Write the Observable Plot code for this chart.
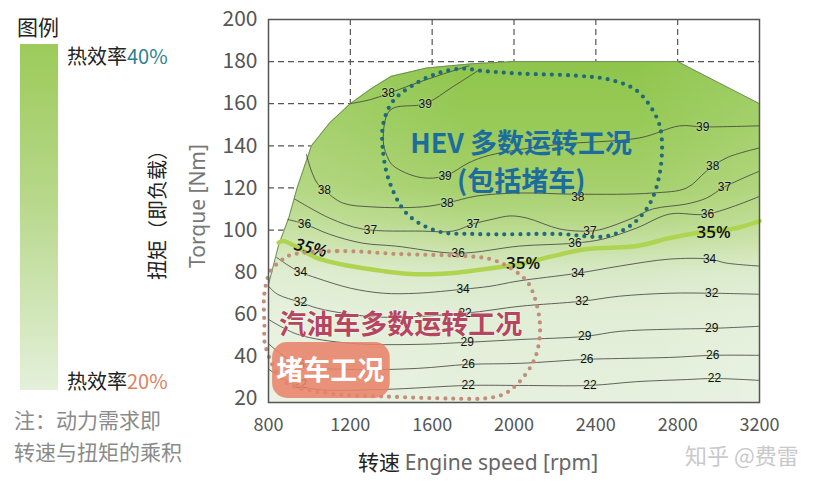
<!DOCTYPE html>
<html>
<head>
<meta charset="utf-8">
<script src="https://cdn.jsdelivr.net/npm/d3@7"></script>
<script src="https://cdn.jsdelivr.net/npm/@observablehq/plot@0.6"></script>
<style>
  html, body { margin: 0; padding: 0; background: #fff; }
  #wrap { position: relative; width: 838px; height: 486px; overflow: hidden;
          font-family: "Noto Sans CJK SC", "Noto Sans", sans-serif; }
  #wrap svg { position: absolute; left: 0; top: 0; }
  .ov { position: absolute; white-space: nowrap; line-height: 1; }
</style>
</head>
<body>
<div id="wrap"></div>
<script>
// ---------------- data ----------------
const speedTicks = [800, 1200, 1600, 2000, 2400, 2800, 3200];
const torqueTicks = [20, 40, 60, 80, 100, 120, 140, 160, 180, 200];
const gridSpeed = [1200, 1600, 2000, 2400, 2800];
const gridTorque = [100, 120, 140, 160, 180];
const torqueMin = 18.1;

// full-load (max torque) boundary [rpm, Nm]
const boundary = [[800,74],[850,93],[900,106],[940,120],[1010,140],[1100,151],[1200,160],[1300,167],[1400,173],[1575,177],[1800,179],[2000,180],[2800,180],[3000,170],[3200,160]];

// efficiency contours [rpm, Nm]
const c39 = [[1824,175.7],[1700,168],[1566,160],[1395,157],[1361,142.4],[1380,135],[1410,130.5],[1541,125],[1663,125.7],[1780,132],[1880,135.5],[2200,140.5],[2615,143.8],[2810,149.5],[2922,149],[3200,149.5]];
const c38top = [[1200,160],[1300,162],[1385,164.8],[1500,169],[1650,174],[1780,178]];
const c38 = [[985,136],[1010,128],[1040,122],[1073,119],[1161,112.9],[1307,111],[1551,111],[1673,112.9],[1820,116.2],[2029,117.6],[2312,117],[2678,117.6],[2844,120],[2941,128],[3039,134.3],[3200,139]];
const c37 = [[927,114.8],[1098,105.7],[1259,100.5],[1551,99.5],[1702,99.5],[1800,102.9],[1898,105.2],[1980,106.7],[2063,105.7],[2224,100.5],[2371,99.5],[2434,100.5],[2580,105.7],[2678,110],[2844,112.4],[2941,115.2],[3029,120.5],[3200,128]];
const c36 = [[895,105],[976,102.9],[1098,98],[1259,93.8],[1420,92.4],[1727,89],[2029,92.4],[2298,93.8],[2434,95.7],[2600,101],[2761,107.6],[2946,107.6],[3200,116]];
const c35 = [[850,94],[873,94.8],[1039,86.7],[1200,82.9],[1361,80.5],[1527,79],[1688,79.5],[1849,81.4],[2029,83.8],[2190,87.6],[2356,91],[2600,92.4],[2761,96.2],[2893,98.6],[3088,101],[3200,104.3]];
const c34 = [[840,87],[900,83],[956,80],[1039,77.1],[1200,72.4],[1361,70],[1527,70],[1751,71.9],[1883,73.3],[2015,75.7],[2312,79.5],[2517,82.9],[2761,86.2],[2956,86.2],[3039,84.3],[3200,82.9]];
const c32 = [[800,73.3],[844,69.5],[956,65.7],[1039,62.9],[1200,60],[1361,58.6],[1761,60.5],[2029,63.8],[2332,66.2],[2517,68.6],[2761,70],[2966,70],[3200,69.5]];
const c29 = [[800,57.6],[941,50.5],[1200,46.2],[1527,45.7],[1771,46.7],[2029,48],[2346,49.5],[2517,51.9],[2761,52.9],[2966,53.3],[3200,54.3]];
const c26 = [[800,46],[946,36.2],[1200,33.8],[1527,34.3],[1776,36.2],[2029,36.7],[2356,38.6],[2517,39],[2761,39.5],[2971,40.5],[3200,40.5]];
const c22 = [[800,34],[922,26.7],[1039,24.3],[1361,24.3],[1776,26.2],[2029,26.2],[2371,26.2],[2600,28],[2844,29],[2980,29.5],[3200,28.6]];

const contourLabels = [
  [1385,164.8,"38"],[1566,160,"39"],[1663,125.7,"39"],[2922,149,"39"],
  [1073,119,"38"],[1673,112.9,"38"],[2312,115.8,"38"],[2971,130.5,"38"],
  [1298,100,"37"],[1800,102.9,"37"],[2371,99.5,"37"],[3029,120.5,"37"],
  [976,102.9,"36"],[1727,89,"36"],[2298,93.8,"36"],[2946,107.6,"36"],
  [956,80,"34"],[1751,71.9,"34"],[2312,79.5,"34"],[2956,86.2,"34"],
  [956,65.7,"32"],[1761,60.5,"32"],[2332,66.2,"32"],[2966,70,"32"],
  [1771,46.7,"29"],[2346,49.5,"29"],[2966,53.3,"29"],
  [946,36.2,"26"],[1776,36.2,"26"],[2356,38.6,"26"],[2971,40.5,"26"],
  [956,27,"22"],[1776,26.2,"22"],[2371,26.2,"22"],[2980,29.5,"22"]
];
const label35 = [[2044,84.3,"35%"],[2976,98.6,"35%"]];
const label35left = [[1005,91.4,"35%"]];

// annotation regions
const hevLoop = [[1361,150.5],[1361,136.2],[1395,121.9],[1478,107.6],[1624,99.5],[1820,98.1],[2224,98.1],[2454,97.1],[2580,102.9],[2663,112.4],[2712,126.7],[2722,143.8],[2698,153.3],[2600,166.2],[2468,171.4],[2307,173.3],[2029,174.3],[1834,175.7],[1751,176.7],[1639,174.8],[1527,170],[1410,161.4]];
const gasLoop = [[907,88.1],[1137,90],[1444,88.6],[1771,87.6],[1883,86.2],[1966,82.9],[2063,75.7],[2102,67.6],[2127,55.2],[2117,43.8],[2088,36.2],[2015,26.7],[1946,21.9],[1849,20],[1688,20],[1361,21],[1102,22.4],[880,28],[785,44.8],[780,55.2],[780,70],[810,80.5],[858,85.2]];
const jamRegion = [{x1: 820, x2: 1395, y1: 20, y2: 46.6}];
const hevNote = [[2035, 133.5, "HEV 多数运转工况\n(包括堵车)"]];
const gasNote = [[1446, 54.7, "汽油车多数运转工况"]];
const jamNote = [[1102, 33, "堵车工况"]];

// ---------------- build ----------------
const contours = [
  ["39", c39], ["38t", c38top], ["38", c38], ["37", c37], ["36", c36],
  ["34", c34], ["32", c32], ["29", c29], ["26", c26], ["22", c22]
].flatMap(([level, pts]) => pts.map(([rpm, t]) => ({level, rpm, t})));

const X = d => d[0], Y = d => d[1], T = d => d[2];
const FONT = "'Noto Sans CJK SC', 'Noto Sans', sans-serif";

const plot = Plot.plot({
  width: 838, height: 486,
  marginLeft: 268, marginRight: 79, marginTop: 19, marginBottom: 84,
  x: {domain: [800, 3200]},
  y: {domain: [torqueMin, 200]},
  style: {fontFamily: FONT, background: "transparent", overflow: "visible"},
  marks: [
    Plot.ruleY(gridTorque, {stroke: "#555", strokeWidth: 1.2, strokeDasharray: "6,4"}),
    Plot.ruleX(gridSpeed, {stroke: "#555", strokeWidth: 1.2, strokeDasharray: "6,4"}),
    Plot.areaY(boundary, {x: X, y1: () => torqueMin, y2: Y, fill: "url(#mapFill)", curve: "linear"}),
    Plot.areaY(boundary, {x: X, y1: () => torqueMin, y2: Y, fill: "url(#mapHaze)", curve: "linear"}),
    Plot.line(boundary, {x: X, y: Y, stroke: "#6f9158", strokeWidth: 1}),
    Plot.line(contours, {x: "rpm", y: "t", z: "level", stroke: "#3d3d3d", strokeWidth: 0.8, curve: "catmull-rom"}),
    Plot.line(c35, {x: X, y: Y, stroke: "#afd450", strokeWidth: 4.5, curve: "catmull-rom"}),
    Plot.text(contourLabels, {x: X, y: Y, text: T, fontSize: 12, fill: "#111", fontFamily: "'Liberation Sans', sans-serif",
      stroke: "#d6e8c0", strokeWidth: 2, strokeOpacity: 0.35}),
    Plot.text(label35, {x: X, y: Y, text: T, fontSize: 17, fontWeight: 600, fill: "#111", fontFamily: "'Open Sans', sans-serif"}),
    Plot.text(label35left, {x: X, y: Y, text: T, fontSize: 17, fontWeight: 600, fontStyle: "italic", rotate: 14, fill: "#111", fontFamily: "'Open Sans', sans-serif"}),
    Plot.line(hevLoop, {x: X, y: Y, curve: "catmull-rom-closed", stroke: "#1f6b79", strokeWidth: 4.2,
      strokeDasharray: "0,8", strokeLinecap: "round"}),
    Plot.line(gasLoop, {x: X, y: Y, curve: "catmull-rom-closed", stroke: "#c48d7a", strokeWidth: 4.2,
      strokeDasharray: "0,8", strokeLinecap: "round"}),
    Plot.rect(jamRegion, {x1: "x1", x2: "x2", y1: "y1", y2: "y2", rx: 15, fill: "#e8836a", fillOpacity: 0.88}),
    Plot.text(jamNote, {x: X, y: Y, text: T, fontSize: 27, fontWeight: "bold", fill: "#fff"}),
    Plot.text(gasNote, {x: X, y: Y, text: T, fontSize: 27, fontWeight: "bold", fill: "#b6455f",
      stroke: "#fff", strokeWidth: 1.5, strokeOpacity: 0.5}),
    Plot.text(hevNote, {x: X, y: Y, text: T, fontSize: 27, fontWeight: "bold", fill: "#1d6c9e", lineHeight: 1.4}),
    Plot.frame({stroke: "#555", strokeWidth: 1.5}),
    Plot.axisX(speedTicks, {tickSize: 0, tickPadding: 16, fontSize: 18, color: "#555", label: null, tickFormat: d => String(d)}),
    Plot.axisY(torqueTicks, {tickSize: 0, tickPadding: 11, fontSize: 21, color: "#555", label: null, tickFormat: d => String(d)})
  ]
});

// gradients for the efficiency map
const ys = plot.scale("y");
const yPix = v => ys.apply(v);
const ns = "http://www.w3.org/2000/svg";
const defs = document.createElementNS(ns, "defs");
const stops = [[180,"#8fc54c"],[150,"#98ca58"],[120,"#a6d06c"],[105,"#b5d885"],[92,"#c8e1a6"],[80,"#d8e9c7"],[60,"#e1eed6"],[torqueMin,"#e6f0de"]];
const g = document.createElementNS(ns, "linearGradient");
g.setAttribute("id", "mapFill");
g.setAttribute("gradientUnits", "userSpaceOnUse");
g.setAttribute("x1", 0); g.setAttribute("x2", 0);
g.setAttribute("y1", yPix(180)); g.setAttribute("y2", yPix(torqueMin));
stops.forEach(([t, c]) => {
  const s = document.createElementNS(ns, "stop");
  s.setAttribute("offset", (180 - t) / (180 - torqueMin));
  s.setAttribute("stop-color", c);
  g.appendChild(s);
});
defs.appendChild(g);
const h = document.createElementNS(ns, "linearGradient");
h.setAttribute("id", "mapHaze");
h.setAttribute("x1", 0); h.setAttribute("x2", 1); h.setAttribute("y1", 0); h.setAttribute("y2", 0);
[[0, 0.18], [0.4, 0.0], [0.75, 0.0], [1, 0.12]].forEach(([o, a]) => {
  const s = document.createElementNS(ns, "stop");
  s.setAttribute("offset", o);
  s.setAttribute("stop-color", "#ffffff");
  s.setAttribute("stop-opacity", a);
  h.appendChild(s);
});
defs.appendChild(h);
plot.insertBefore(defs, plot.firstChild);

const wrap = document.getElementById("wrap");
wrap.appendChild(plot);

// overlays: legend, axis titles, notes
function ov(html, style) {
  const d = document.createElement("div");
  d.className = "ov";
  d.innerHTML = html;
  d.setAttribute("style", style);
  wrap.appendChild(d);
}
ov("图例", "left:17px; top:16px; font-size:21px; color:#222;");
ov("", "left:20px; top:44px; width:38px; height:346px; background:linear-gradient(#9ccb5a, #b7d88a 45%, #e4f0da);");
ov('热效率<span style="color:#2f7f91">40%</span>', "left:67px; top:46px; font-size:20px; color:#222;");
ov('热效率<span style="color:#e0805f">20%</span>', "left:67px; top:371px; font-size:20px; color:#222;");
ov("注：动力需求即", "left:14px; top:409px; font-size:21px; color:#8a8a8a;");
ov("转速与扭矩的乘积", "left:14px; top:441px; font-size:21px; color:#8a8a8a;");
ov("扭矩（即负载）", "left:157px; top:210px; font-size:20px; color:#222; transform:translate(-50%,-50%) rotate(-90deg);");
ov("Torque [Nm]", "left:197px; top:206px; font-size:21px; color:#777; font-family:'Noto Sans',sans-serif; transform:translate(-50%,-50%) rotate(-90deg);");
ov('转速 <span style="color:#666; font-family:\'Noto Sans\',sans-serif">Engine speed [rpm]</span>', "left:358px; top:451px; font-size:21px; color:#222;");
ov("知乎 @费雷", "left:685px; top:443px; font-size:22px; color:#c9c9c9;");
</script>
</body>
</html>
